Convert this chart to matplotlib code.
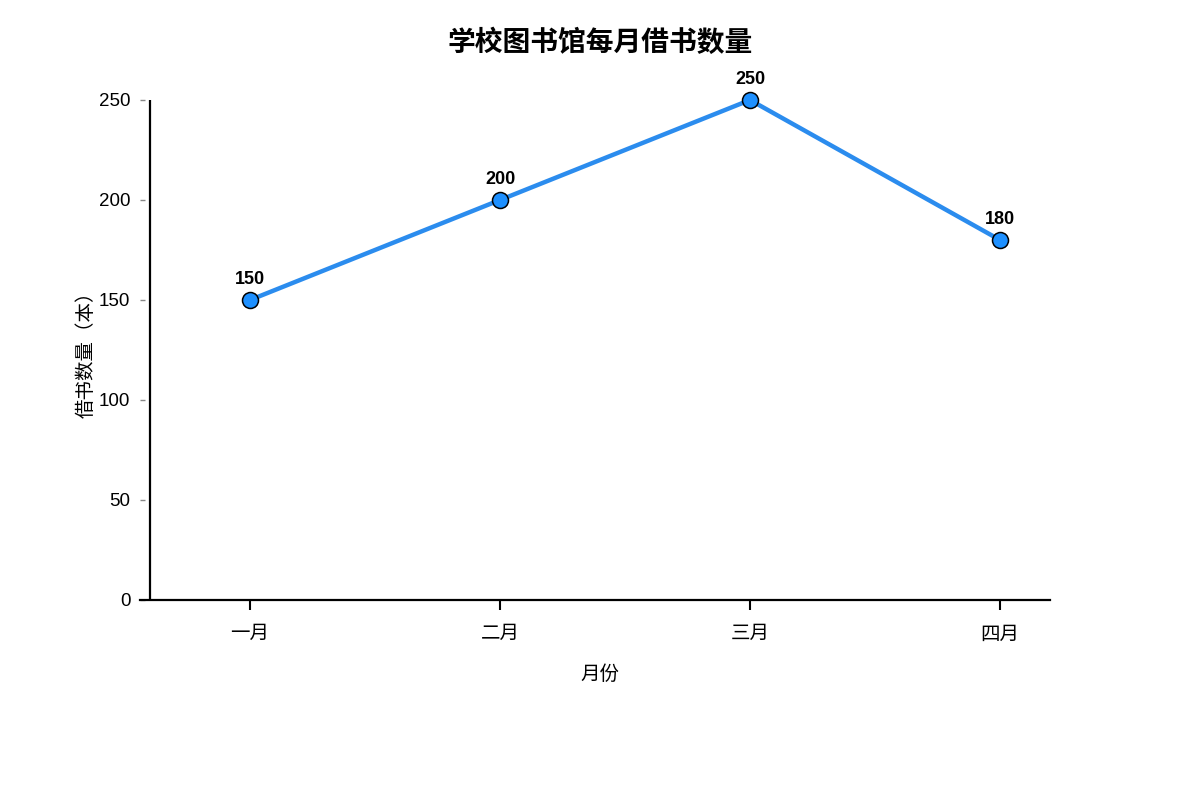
import matplotlib
matplotlib.use("Agg")
import matplotlib.pyplot as plt

months = ["一月", "二月", "三月", "四月"]
borrowed = [150, 200, 250, 180]
y_ticks = [0, 50, 100, 150, 200, 250]

plt.rcParams['font.family'] = ['Liberation Sans', 'Noto Sans CJK SC', 'DejaVu Sans']

fig = plt.figure(figsize=(12, 8), dpi=100)
ax = fig.add_axes([140/1200, 0.25, 910/1200, 0.625])

x = list(range(len(months)))
ax.plot(x, borrowed, color='#2b8cee', linewidth=3.2, marker='o', markersize=11.5,
        markerfacecolor='#1e90ff', markeredgecolor='black', markeredgewidth=1.1,
        clip_on=False, zorder=3)
for xi, v in zip(x, borrowed):
    ax.annotate(str(v), (xi, v), xytext=(0, 9), textcoords='offset points',
                ha='center', va='bottom', fontsize=13, fontweight='bold', color='black')

ax.set_xlim(-0.44, 3.2)
ax.set_ylim(0, 250)
ax.set_xticks(x)
ax.set_xticklabels(months, fontsize=14)
ax.set_yticks(y_ticks)
ax.tick_params(axis='y', direction='in', length=3.5, width=1, color='#888888', labelsize=13.5, pad=7)
ax.tick_params(axis='x', direction='out', length=7, width=1.5, color='black', pad=12)

for s in ['top', 'right', 'left']:
    ax.spines[s].set_visible(False)
ax.spines['bottom'].set_linewidth(1.6)
ax.axvline(-0.4, color='black', linewidth=1.6, zorder=2)

ax.set_xlabel("月份", fontsize=14)
ax.xaxis.set_label_coords((600 - 140) / 910, -75 / 500, transform=ax.transAxes)
ax.xaxis.label.set_va('center')
ax.set_ylabel("借书数量（本）", fontsize=14, labelpad=2)
fig.suptitle("学校图书馆每月借书数量", fontsize=20, fontweight='bold', y=0.964,
             family=['Noto Sans CJK SC', 'DejaVu Sans'])

fig.savefig("out.png", dpi=100)
